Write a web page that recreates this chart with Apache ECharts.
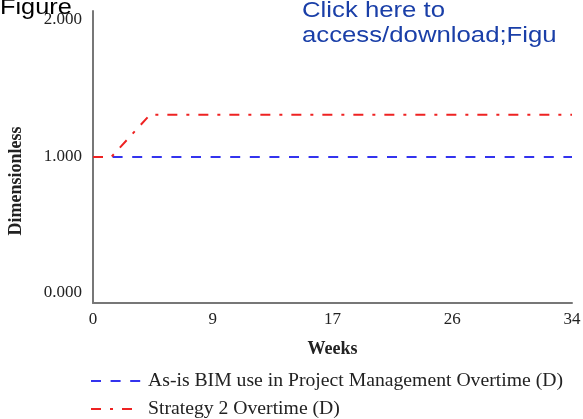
<!DOCTYPE html>
<html><head><meta charset="utf-8">
<script src="https://cdn.jsdelivr.net/npm/echarts@6/dist/echarts.min.js"></script>
<style>html,body{margin:0;padding:0;background:#fff}#c{width:583px;height:419px}</style>
</head><body><div id="c"></div>
<script>
const weeksMax = 34;
const xTicks = [0, 8.5, 17, 25.5, 34];
const yTickLabels = ['0.000', '1.000', '2.000'];
const asIsName = 'As-is BIM use in Project Management Overtime (D)';
const asIsData = [[0, 1.0], [34, 1.0]];
const strategyName = 'Strategy 2 Overtime (D)';
const strategyData = [[0, 1.0], [1.3, 1.0], [4.05, 1.29], [34, 1.29]];

const serif = 'Liberation Serif';
const legendBase = {
  orient: 'horizontal', left: 90, itemGap: 10, padding: 0,
  itemWidth: 50, itemHeight: 14,
  itemStyle: {color: 'transparent', borderColor: 'transparent', borderWidth: 0},
  textStyle: {fontFamily: serif, fontSize: 19.7, color: '#222', padding: [0, 0, 0, 2]}
};
const chart = echarts.init(document.getElementById('c'));
chart.setOption({
  animation: false,
  grid: {left: 93, right: 11, top: 11, bottom: 116, outerBoundsMode: 'none', containLabel: false},
  xAxis: {
    type: 'value', min: 0, max: weeksMax, interval: 8.5,
    name: 'Weeks', nameLocation: 'middle', nameGap: 37,
    nameTextStyle: {fontFamily: serif, fontSize: 18, fontWeight: 'bold', color: '#222'},
    axisLine: {lineStyle: {color: '#777', width: 2}},
    axisTick: {show: false},
    splitLine: {show: false},
    axisLabel: {fontFamily: serif, fontSize: 17, color: '#222', margin: 8,
      formatter: v => String(Math.round(v))}
  },
  yAxis: {
    type: 'value', min: 0, max: 2, interval: 1,
    name: 'Dimensionless', nameLocation: 'middle', nameGap: 68,
    nameTextStyle: {fontFamily: serif, fontSize: 18, fontWeight: 'bold', color: '#222', padding: [0, 48, 0, 0]},
    axisLine: {show: true, lineStyle: {color: '#777', width: 2}},
    axisTick: {show: false},
    splitLine: {show: false},
    axisLabel: {fontFamily: serif, fontSize: 17, color: '#222', margin: 11,
      formatter: v => {
        const i = Math.round(v);
        const s = yTickLabels[i];
        return i === 0 ? '{lo|' + s + '}' : i === 2 ? '{hi|' + s + '}' : s;
      },
      rich: {
        lo: {fontFamily: serif, fontSize: 17, color: '#222', padding: [0, 0, 20, 0]},
        hi: {fontFamily: serif, fontSize: 17, color: '#222', padding: [18, 0, 0, 0]}
      }
    }
  },
  legend: [
    Object.assign({}, legendBase, {top: 371, data: [asIsName]}),
    Object.assign({}, legendBase, {top: 399, data: [strategyName]})
  ],
  series: [
    {name: asIsName, type: 'line', data: asIsData, symbol: 'none', z: 2,
      lineStyle: {color: '#3333ee', width: 2, type: [10, 9.6]}, itemStyle: {color: '#3333ee'}},
    {name: strategyName, type: 'line', data: strategyData, symbol: 'none', z: 3,
      lineStyle: {color: '#ee2222', width: 2, type: [10, 9, 3, 9]}, itemStyle: {color: '#ee2222'}}
  ],
  graphic: [
    {type: 'text', x: 0, y: -3, scaleX: 1.15, z: 10, style: {text: 'Figure', font: '22px "Liberation Sans"', fill: '#000'}},
    {type: 'text', x: 302, y: -2, scaleX: 1.17, z: 10, style: {text: 'Click here to\naccess/download;Figu', font: '22px "Liberation Sans"', fill: '#1a3fa8', lineHeight: 25}}
  ]
});
</script></body></html>
